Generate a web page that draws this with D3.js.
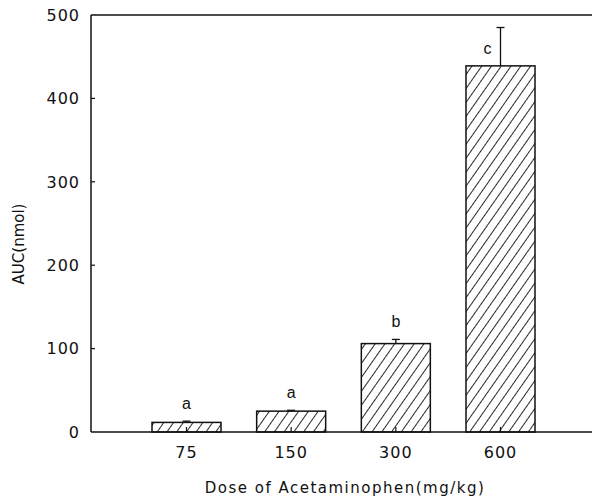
<!DOCTYPE html>
<html>
<head>
<meta charset="utf-8">
<script src="https://cdn.jsdelivr.net/npm/d3@7"></script>
<style>
  body { margin: 0; background: #fff; }
  text { font-family: "DejaVu Sans", sans-serif; fill: #111; }
</style>
</head>
<body>
<div id="vis"></div>
<script>
const width = 592;
const height = 499;

// data
const doses = ['75', '150', '300', '600'];
const auc = [11.5, 25, 106, 439];
const aucErr = [1.5, 1, 5, 46];
const groups = ['a', 'a', 'b', 'c'];
const yTicks = [0, 100, 200, 300, 400, 500];

const plotLeft = 91, plotRight = 592, plotTop = 15, plotBottom = 432;

const svg = d3.select('#vis').append('svg')
  .attr('width', width)
  .attr('height', height);

const y = d3.scaleLinear()
  .domain([0, 500])
  .range([plotBottom, plotTop]);

const x = d3.scalePoint()
  .domain(doses)
  .range([186.5, 500.5]);
const barWidth = 69;

// hatch pattern for the bars ("///")
const defs = svg.append('defs');
const pat = defs.append('pattern')
  .attr('id', 'hatch')
  .attr('patternUnits', 'userSpaceOnUse')
  .attr('width', 8)
  .attr('height', 8)
  .attr('patternTransform', 'rotate(35)');
pat.append('line')
  .attr('x1', 0).attr('y1', 0)
  .attr('x2', 0).attr('y2', 8)
  .attr('stroke', '#111')
  .attr('stroke-width', 1.8);

// frame: left, top and bottom lines
svg.append('line')
  .attr('x1', plotLeft).attr('x2', plotLeft)
  .attr('y1', plotTop).attr('y2', plotBottom)
  .attr('stroke', '#111').attr('stroke-width', 1.5);
svg.append('line')
  .attr('x1', plotLeft).attr('x2', plotRight)
  .attr('y1', plotTop).attr('y2', plotTop)
  .attr('stroke', '#111').attr('stroke-width', 1.5);

// y ticks (inward)
svg.selectAll('.ytick')
  .data(yTicks.filter(d => d > 0 && d < 500))
  .enter().append('line')
  .attr('class', 'ytick')
  .attr('x1', plotLeft).attr('x2', plotLeft + 4)
  .attr('y1', d => y(d)).attr('y2', d => y(d))
  .attr('stroke', '#111').attr('stroke-width', 1.2);

svg.selectAll('.ylabel')
  .data(yTicks)
  .enter().append('text')
  .attr('class', 'ylabel')
  .attr('x', 80)
  .attr('y', d => y(d))
  .attr('dy', '0.36em')
  .attr('text-anchor', 'end')
  .style('font-size', '16px')
  .style('letter-spacing', '1px')
  .text(d => d);

// bars
svg.selectAll('.bar')
  .data(auc)
  .enter().append('rect')
  .attr('class', 'bar')
  .attr('x', (d, i) => x(doses[i]) - barWidth / 2)
  .attr('y', d => y(d))
  .attr('width', barWidth)
  .attr('height', d => plotBottom - y(d))
  .attr('fill', 'url(#hatch)')
  .attr('stroke', '#111')
  .attr('stroke-width', 1.5);

// error bars
svg.selectAll('.err')
  .data(aucErr)
  .enter().append('line')
  .attr('class', 'err')
  .attr('x1', (d, i) => x(doses[i])).attr('x2', (d, i) => x(doses[i]))
  .attr('y1', (d, i) => y(auc[i])).attr('y2', (d, i) => y(auc[i] + d))
  .attr('stroke', '#111').attr('stroke-width', 1.3);
svg.selectAll('.errcap')
  .data(aucErr)
  .enter().append('line')
  .attr('class', 'errcap')
  .attr('x1', (d, i) => x(doses[i]) - 4).attr('x2', (d, i) => x(doses[i]) + 4)
  .attr('y1', (d, i) => y(auc[i] + d)).attr('y2', (d, i) => y(auc[i] + d))
  .attr('stroke', '#111').attr('stroke-width', 1.3);

// x ticks (inward) and baseline
svg.selectAll('.xtick')
  .data(doses)
  .enter().append('line')
  .attr('class', 'xtick')
  .attr('x1', d => x(d)).attr('x2', d => x(d))
  .attr('y1', plotBottom).attr('y2', plotBottom - 5)
  .attr('stroke', '#111').attr('stroke-width', 1.2);
svg.append('line')
  .attr('x1', plotLeft).attr('x2', plotRight)
  .attr('y1', plotBottom).attr('y2', plotBottom)
  .attr('stroke', '#111').attr('stroke-width', 1.5);

svg.selectAll('.xlabel')
  .data(doses)
  .enter().append('text')
  .attr('class', 'xlabel')
  .attr('x', d => x(d))
  .attr('y', 452)
  .attr('dy', '0.36em')
  .attr('text-anchor', 'middle')
  .style('font-size', '16px')
  .style('letter-spacing', '1px')
  .text(d => d);

// significance letters
svg.selectAll('.grp')
  .data(groups)
  .enter().append('text')
  .attr('class', 'grp')
  .attr('x', (d, i) => i === 3 ? x(doses[i]) - 13 : x(doses[i]))
  .attr('y', (d, i) => i === 3 ? 48 : y(auc[i] + aucErr[i]) - 18)
  .attr('dy', '0.36em')
  .attr('text-anchor', 'middle')
  .style('font-family', '"Liberation Sans", Arial, sans-serif')
  .style('font-size', '16px')
  .text(d => d);

// axis titles
svg.append('text')
  .attr('x', 345)
  .attr('y', 488)
  .attr('dy', '0.36em')
  .attr('text-anchor', 'middle')
  .style('font-size', '15px')
  .style('letter-spacing', '1.5px')
  .text('Dose of Acetaminophen(mg/kg)');

svg.append('text')
  .attr('transform', 'translate(19,244) rotate(-90)')
  .attr('dy', '0.36em')
  .attr('text-anchor', 'middle')
  .style('font-size', '15px')
  .text('AUC(nmol)');
</script>
</body>
</html>
